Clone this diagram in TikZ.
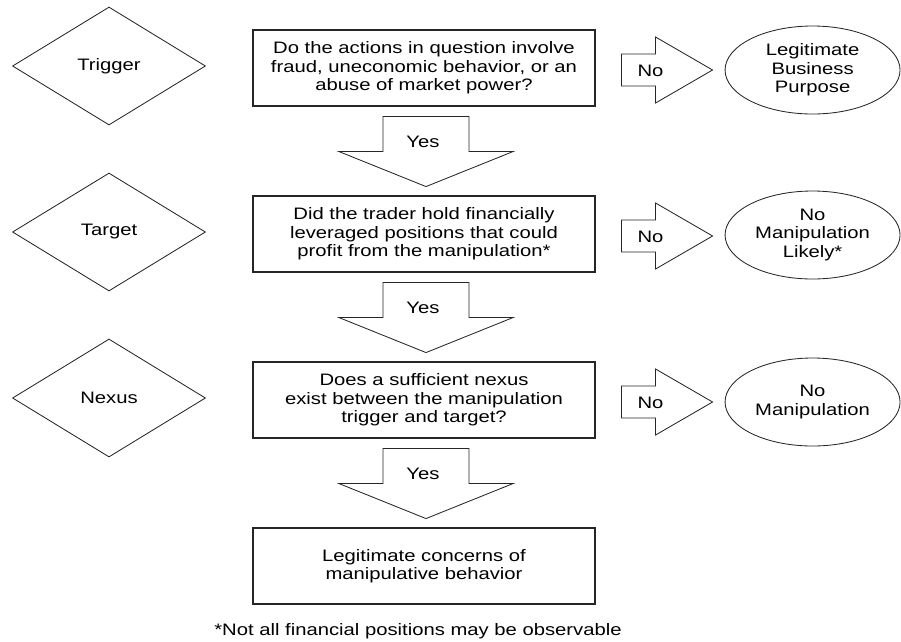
\documentclass[tikz,border=0pt]{standalone}
\usepackage{fontspec}
\setmainfont[FakeStretch=1.22]{Liberation Sans}
\usetikzlibrary{shapes.geometric,calc}
\tikzset{question/.style={draw=black!85, line width=0.8pt, minimum width=342*0.025cm,
    minimum height=76*0.025cm, align=center, inner sep=0pt},
    stage/.style={diamond, draw=black!85, line width=0.6pt, minimum width=193*0.025cm,
    minimum height=118*0.025cm, inner sep=0pt},
    outcome/.style={ellipse, draw=black!85, line width=0.6pt, minimum width=175*0.025cm,
    minimum height=88*0.025cm, align=center, inner sep=0pt},
    blockarrow/.style={draw=black!85, line width=0.6pt, line join=miter}}
% block arrow below a question box
\newcommand{\yesarrow}[2]{%
    \draw[blockarrow] ($(#1.south)+(-41,10)$) -- ++(86,0) -- ++(0,35) -- ++(44,0)
        -- ++(-87,35) -- ++(-87,-35) -- ++(44,0) -- cycle;
    \node (#2) at ($(#1.south)+(-1,35)$) {Yes};}
% block arrow right of a question box
\newcommand{\noarrow}[2]{%
    \draw[blockarrow] ($(#1.east)+(26,-14)$) -- ++(34,0) -- ++(0,-17) -- ++(57,33)
        -- ++(-57,33) -- ++(0,-17) -- ++(-34,0) -- cycle;
    \node (#2) at ($(#1.east)+(55,3)$) {No};}

\begin{document}
\begin{tikzpicture}[x=0.025cm, y=-0.025cm,
    every node/.style={font=\fontsize{11.8pt}{13.2pt}\selectfont}]
    \useasboundingbox (0,0) rectangle (901,641);
    % Stages
    \node[stage] (trigger) at (109,66) {Trigger};
    \node[stage] (target) at (109,232) {Target};
    \node[stage] (nexus) at (109,398) {Nexus};
    %
    % Questions
    \node[question] (q1) at (424,68) {Do the actions in question involve\\
        fraud, uneconomic behavior, or an\\ abuse of market power?};
    \node[question] (q2) at (424,234) {Did the trader hold financially\\
        leveraged positions that could\\ profit from the manipulation*};
    \node[question] (q3) at (424,400) {Does a sufficient nexus\\
        exist between the manipulation\\ trigger and target?};
    \node[question] (concern) at (424,566) {Legitimate concerns of\\
        manipulative behavior};
    %
    % Outcomes
    \node[outcome] (legit) at ($(q1.east)+(217,2)$) {Legitimate\\ Business\\ Purpose};
    \node[outcome] (likely) at ($(q2.east)+(217,1)$) {No\\ Manipulation\\ Likely*};
    \node[outcome] (nomanip) at ($(q3.east)+(217,2)$) {No\\ Manipulation};
    %
    \yesarrow{q1}{yes1}
    \yesarrow{q2}{yes2}
    \yesarrow{q3}{yes3}
    \noarrow{q1}{no1}
    \noarrow{q2}{no2}
    \noarrow{q3}{no3}
    %
    \node (note) at (418,631) {*Not all financial positions may be observable};
\end{tikzpicture}
\end{document}
